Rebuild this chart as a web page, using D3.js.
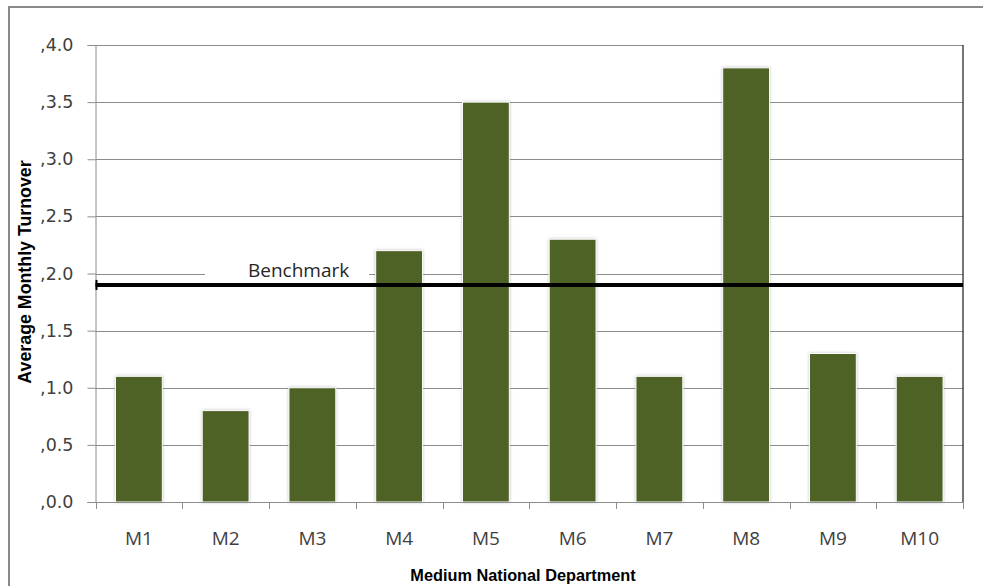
<!DOCTYPE html>
<html>
<head>
<meta charset="utf-8">
<script src="https://cdn.jsdelivr.net/npm/d3@7"></script>
<style>
  html, body { margin: 0; padding: 0; background: #fff; }
  svg { display: block; }
</style>
</head>
<body>
<svg id="chart" width="983" height="586"></svg>
<script>
// Departments and their average monthly turnover
const categories = ["M1", "M2", "M3", "M4", "M5", "M6", "M7", "M8", "M9", "M10"];
const turnover = [1.1, 0.8, 1.0, 2.2, 3.5, 2.3, 1.1, 3.8, 1.3, 1.1];
const benchmark = 1.9;
const benchmarkLabel = "Benchmark";
const yTicks = [0, 0.5, 1.0, 1.5, 2.0, 2.5, 3.0, 3.5, 4.0];
const xTitle = "Medium National Department";
const yTitle = "Average Monthly Turnover";

const svg = d3.select("#chart");
const plot = { left: 95.5, right: 963, top: 45, bottom: 502 };

const x = d3.scaleBand()
  .domain(categories)
  .range([plot.left, plot.right])
  .paddingInner(0.46)
  .paddingOuter(0.23);

const y = d3.scaleLinear()
  .domain([0, 4])
  .range([plot.bottom, plot.top]);

// Outer frame
svg.append("rect")
  .attr("x", 9).attr("y", 7)
  .attr("width", 1000).attr("height", 600)
  .attr("fill", "none")
  .attr("stroke", "#8a8a8a")
  .attr("stroke-width", 2);

// Drop shadow for bars
const defs = svg.append("defs");
const f = defs.append("filter").attr("id", "barShadow")
  .attr("x", "-20%").attr("y", "-5%").attr("width", "140%").attr("height", "110%");
f.append("feDropShadow")
  .attr("dx", 0).attr("dy", 0)
  .attr("stdDeviation", 1.6)
  .attr("flood-color", "#8c8c8c")
  .attr("flood-opacity", 0.55);

// Horizontal gridlines
svg.append("g")
  .selectAll("line")
  .data(yTicks)
  .join("line")
  .attr("x1", plot.left).attr("x2", plot.right)
  .attr("y1", d => Math.round(y(d)) + 0.5)
  .attr("y2", d => Math.round(y(d)) + 0.5)
  .attr("stroke", "#8c8c8c")
  .attr("stroke-width", 1);

// Y axis
const yAxis = svg.append("g")
  .attr("transform", `translate(${plot.left},0)`)
  .call(d3.axisLeft(y)
    .tickValues(yTicks)
    .tickFormat(d => "," + d.toFixed(1))
    .tickSize(8)
    .tickPadding(14));
yAxis.select(".domain").attr("stroke", "#8c8c8c");
yAxis.selectAll(".tick line").attr("stroke", "#8c8c8c");
yAxis.selectAll(".tick text")
  .attr("font-family", "DejaVu Sans, sans-serif")
  .attr("font-size", 17.5)
  .attr("fill", "#3f3f3f");

// Right border of the plot
svg.append("line")
  .attr("x1", plot.right).attr("x2", plot.right)
  .attr("y1", plot.top).attr("y2", plot.bottom)
  .attr("stroke", "#1a1a1a").attr("stroke-width", 1.2);

// Benchmark label with a white backing box
const labelG = svg.append("g");
labelG.append("rect")
  .attr("x", 205).attr("y", y(2.0) - 11)
  .attr("width", 164).attr("height", 20)
  .attr("fill", "#fff");
labelG.append("text")
  .attr("x", 248).attr("y", y(2.0) + 3.5)
  .attr("font-family", "Open Sans, sans-serif")
  .attr("font-size", 19)
  .attr("fill", "#262626")
  .text(benchmarkLabel);

// Bars
svg.append("g")
  .selectAll("rect")
  .data(categories.map((c, i) => ({ c, v: turnover[i] })))
  .join("rect")
  .attr("x", d => x(d.c))
  .attr("y", d => y(d.v))
  .attr("width", x.bandwidth())
  .attr("height", d => y(0) - y(d.v))
  .attr("fill", "#4f6228")
  .attr("stroke", "#ffffff")
  .attr("stroke-width", 1)
  .attr("filter", "url(#barShadow)");

// Bottom axis with ticks at category boundaries
const gap = x.step() - x.bandwidth();
const bounds = categories.map(c => x(c) - gap / 2).concat([plot.right]);
const xAxisG = svg.append("g");
xAxisG.append("line")
  .attr("x1", plot.left - 8).attr("x2", plot.right)
  .attr("y1", plot.bottom + 0.5).attr("y2", plot.bottom + 0.5)
  .attr("stroke", "#8c8c8c");
xAxisG.selectAll("line.tick")
  .data(bounds)
  .join("line")
  .attr("class", "tick")
  .attr("x1", d => Math.round(d) + 0.5).attr("x2", d => Math.round(d) + 0.5)
  .attr("y1", plot.bottom).attr("y2", plot.bottom + 7)
  .attr("stroke", "#8c8c8c");
xAxisG.selectAll("text")
  .data(categories)
  .join("text")
  .attr("x", d => x(d) + x.bandwidth() / 2)
  .attr("y", 545)
  .attr("text-anchor", "middle")
  .attr("font-family", "Open Sans, sans-serif")
  .attr("font-size", 19)
  .attr("fill", "#3f3f3f")
  .text(d => d);

// Benchmark line
const by = y(benchmark);
svg.append("line")
  .attr("x1", plot.left).attr("x2", plot.right)
  .attr("y1", by).attr("y2", by)
  .attr("stroke", "#000").attr("stroke-width", 4);
svg.append("line")
  .attr("x1", plot.left + 1).attr("x2", plot.left + 1)
  .attr("y1", by - 5).attr("y2", by + 5)
  .attr("stroke", "#000").attr("stroke-width", 2);

// Axis titles
svg.append("text")
  .attr("x", 523)
  .attr("y", 581)
  .attr("text-anchor", "middle")
  .attr("font-family", "Liberation Sans, Arial, sans-serif")
  .attr("font-weight", "bold")
  .attr("font-size", 16.3)
  .attr("fill", "#000")
  .text(xTitle);

svg.append("text")
  .attr("transform", `translate(31,272) rotate(-90)`)
  .attr("text-anchor", "middle")
  .attr("font-family", "Liberation Sans, Arial, sans-serif")
  .attr("font-weight", "bold")
  .attr("font-size", 17.8)
  .attr("fill", "#000")
  .text(yTitle);
</script>
</body>
</html>
